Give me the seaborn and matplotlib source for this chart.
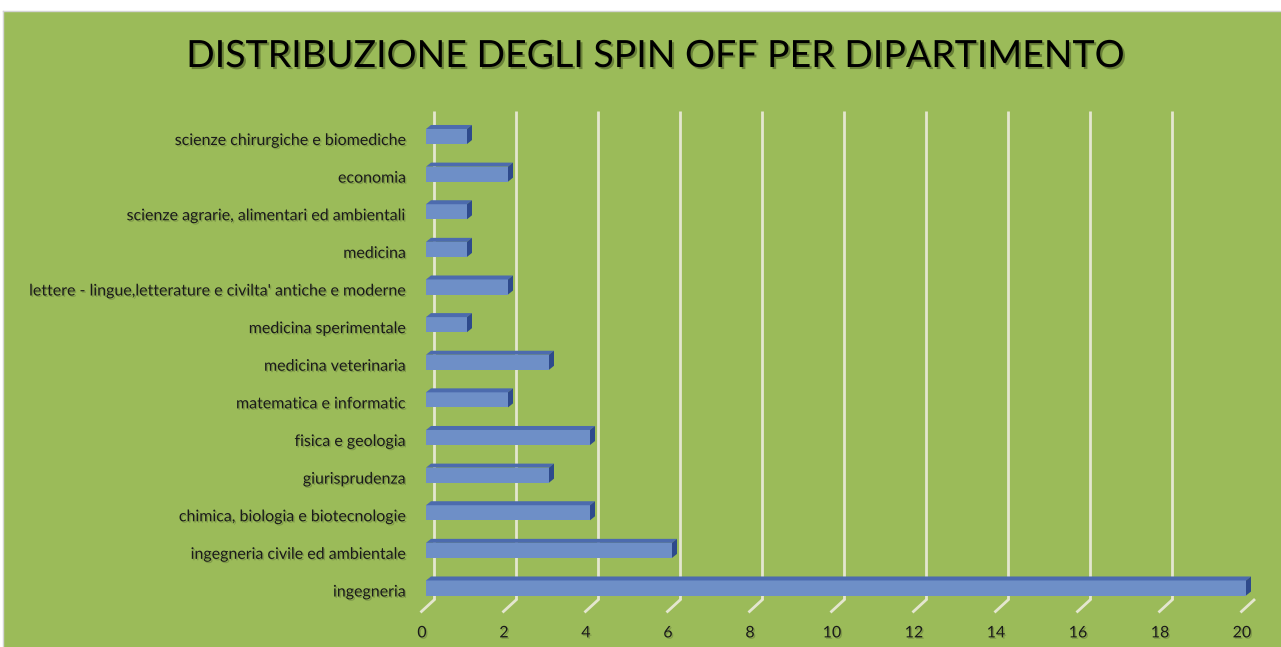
import matplotlib
matplotlib.use("Agg")
import matplotlib.pyplot as plt
import matplotlib.patches as mpatches
import matplotlib.transforms as mtransforms
import matplotlib.patheffects as pe
from matplotlib.lines import Line2D
import seaborn as sns
import pandas as pd

# ---------------- data ----------------
departments = [
    "scienze chirurgiche e biomediche",
    "economia",
    "scienze agrarie, alimentari ed ambientali",
    "medicina",
    "lettere - lingue,letterature e civilta' antiche e moderne",
    "medicina sperimentale",
    "medicina veterinaria",
    "matematica e informatic",
    "fisica e geologia",
    "giurisprudenza",
    "chimica, biologia e biotecnologie",
    "ingegneria civile ed ambientale",
    "ingegneria",
]
spin_offs = [1, 2, 1, 1, 2, 1, 3, 2, 4, 3, 4, 6, 20]
x_ticks = [0, 2, 4, 6, 8, 10, 12, 14, 16, 18, 20]
title_text = "DISTRIBUZIONE DEGLI SPIN OFF PER DIPARTIMENTO"

# ---------------- style ----------------
GREEN = "#9BBB59"
FRONT = "#6E8FC7"
TOP = "#4C6BAE"
SIDE = "#2E4A8C"
GRID = "#E4E6CF"
FONT = "Lato"

W, H, DPI = 1281, 647, 100
fig = plt.figure(figsize=(W / DPI, H / DPI), dpi=DPI, facecolor="white")

bg = mpatches.Rectangle((3 / W, 0), 1 - 3 / W, 1 - 11 / H, transform=fig.transFigure,
                        facecolor=GREEN, edgecolor="none", zorder=-1)
fig.add_artist(bg)
fig.add_artist(Line2D([2.5 / W, 2.5 / W], [0, 1 - 10.5 / H], transform=fig.transFigure,
                      color="#D4D4D4", lw=1, zorder=-0.5))
fig.add_artist(Line2D([2.5 / W, 1], [1 - 10.5 / H, 1 - 10.5 / H], transform=fig.transFigure,
                      color="#D4D4D4", lw=1, zorder=-0.5))

ax_left, ax_right, ax_top, ax_bottom = 426, 1246, 111, 600
ax = fig.add_axes([ax_left / W, 1 - ax_bottom / H, (ax_right - ax_left) / W, (ax_bottom - ax_top) / H])
ax.set_facecolor("none")

df = pd.DataFrame({"dipartimento": departments, "spin_off": spin_offs})
sns.barplot(data=df, y="dipartimento", x="spin_off", orient="h", color=FRONT,
            saturation=1, width=0.4, ax=ax, zorder=3, linewidth=0)

ax.set_xlim(0, 20)
first_c, last_c = 136.5, 588.0
ppu = (last_c - first_c) / (len(departments) - 1)
ax.set_ylim((len(departments) - 1) + (ax_bottom - last_c) / ppu, -(first_c - ax_top) / ppu)

for s in ax.spines.values():
    s.set_visible(False)
ax.set_xlabel("")
ax.set_ylabel("")
ax.set_xticks(x_ticks)
ax.set_xticklabels([str(t) for t in x_ticks])
ax.tick_params(axis="x", length=0, pad=19, labelsize=11.5, labelcolor="#1a1a1a")
ax.tick_params(axis="y", length=0, pad=14.5, labelsize=11.5, labelcolor="#1a1a1a")
ax.grid(False)

shadow = [pe.withSimplePatchShadow(offset=(1, -1), shadow_rgbFace="#4a5a2a", alpha=0.35)]
xshift = mtransforms.ScaledTranslation(-4 / DPI, 0, fig.dpi_scale_trans)
for lab in ax.get_xticklabels():
    lab.set_fontfamily(FONT)
    lab.set_transform(lab.get_transform() + xshift)
    lab.set_path_effects(shadow)
yshift = mtransforms.ScaledTranslation(0, -3 / DPI, fig.dpi_scale_trans)
for lab in ax.get_yticklabels():
    lab.set_fontfamily(FONT)
    lab.set_transform(lab.get_transform() + yshift)
    lab.set_path_effects(shadow)

# back-wall gridlines (offset into depth)
back = mtransforms.ScaledTranslation(8 / DPI, 0, fig.dpi_scale_trans)
ax.vlines(x_ticks, 0, 1, transform=ax.get_xaxis_transform() + back,
          colors=GRID, lw=2, zorder=1)

fig.canvas.draw()
ident = mtransforms.IdentityTransform()
# floor slanted tick lines
for t in x_ticks:
    px, py = ax.get_xaxis_transform().transform((t, 0))
    fig.add_artist(Line2D([px + 8, px - 4.5], [py, py - 11.5], transform=ident,
                          color=GRID, lw=2, zorder=0.5))

# 3D faces of bars
dx, dy = 5, 4
for p in ax.patches:
    x0, y0, w, h = p.get_x(), p.get_y(), p.get_width(), p.get_height()
    (a0, b0) = ax.transData.transform((x0, y0))
    (a1, b1) = ax.transData.transform((x0 + w, y0 + h))
    left, right = min(a0, a1), max(a0, a1)
    bottom, top = min(b0, b1), max(b0, b1)
    topface = mpatches.Polygon([(left, top), (right, top), (right + dx, top + dy), (left + dx, top + dy)],
                               closed=True, transform=ident, facecolor=TOP, edgecolor="none", zorder=2)
    sideface = mpatches.Polygon([(right, bottom), (right, top), (right + dx, top + dy), (right + dx, bottom + dy)],
                                closed=True, transform=ident, facecolor=SIDE, edgecolor="none", zorder=2)
    fig.add_artist(topface)
    fig.add_artist(sideface)

fig.text(654 / W, 1 - 56 / H, title_text, ha="center", va="center", fontsize=27,
         family=FONT, color="black",
         path_effects=[pe.withSimplePatchShadow(offset=(1.5, -1.5), shadow_rgbFace="#3a4a1a", alpha=0.5)])

fig.savefig("out.png", dpi=DPI, facecolor="white")
